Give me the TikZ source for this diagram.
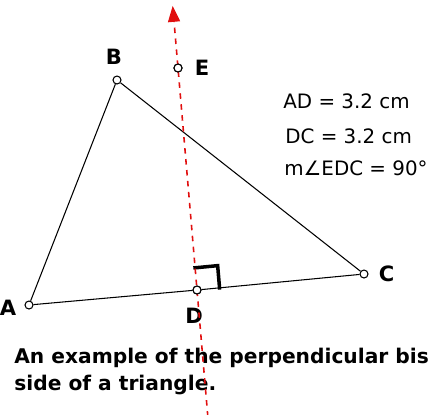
\documentclass[tikz,border=0pt]{standalone}
\usepackage{fontspec}
\setmainfont{DejaVu Sans}
\usepackage{tikz}
\usetikzlibrary{arrows.meta, positioning, calc}
\definecolor{bisectred}{RGB}{225, 15, 15}
\tikzset{
    vertex/.style={circle, draw=black, fill=white, line width=0.6pt, inner sep=0pt, minimum size=0.16cm},
    ptlabel/.style={inner sep=0pt, font=\bfseries\fontsize{12}{14}\selectfont},
    measure/.style={anchor=base west, inner sep=0pt, font=\fontsize{11.3}{14}\selectfont},
    caption/.style={anchor=base west, inner sep=0pt, font=\bfseries\fontsize{11.5}{14}\selectfont},
    side/.style={line width=0.6pt, draw=black},
    bisector/.style={draw=bisectred, line width=0.9pt, dash pattern=on 0.11cm off 0.11cm, -{Triangle[width=0.24cm, length=0.32cm]}},
    rightangle/.style={line width=2pt, line cap=rect, draw=black}
}

\begin{document}
\begin{tikzpicture}[x=0.02cm, y=-0.02cm]
    \useasboundingbox (0,0) rectangle (432,414);

    \node (A) [vertex] at (29,305) {};
    \node (B) [vertex] at (117,80) {};
    \node (C) [vertex] at (364,274) {};
    \node (D) [vertex] at (197,290) {};
    \node (E) [vertex] at (178,68) {};

    \coordinate (tip) at ($(D.center)!1.28!(E.center)$);
    \coordinate (bot) at ($(D.center)!-0.57!(E.center)$);

    \draw [side] (A) -- (B);
    \draw [side] (B) -- (C);
    \draw [side] (A) -- (D);
    \draw [side] (D) -- (C);

    \draw [rightangle] ($(D.center)!0.1!(E.center)$) -- ($(D.center)!0.1!(E.center) + (D.center)!0.135!(C.center) - (D.center)$) -- ($(D.center)!0.135!(C.center)$);

    \node (labA) [ptlabel, left=0.16cm of A, yshift=-0.06cm] {A};
    \node (labB) [ptlabel, above=0.21cm of B, xshift=-0.06cm] {B};
    \node (labC) [ptlabel, right=0.2cm of C] {C};
    \node (labD) [ptlabel, below=0.26cm of D, xshift=-0.06cm] {D};
    \node (labE) [ptlabel, right=0.24cm of E] {E};

    \node (ad) [measure] at (283,108) {AD = 3.2 cm};
    \node (dc) [measure] at (285,143) {DC = 3.2 cm};
    \node (edc) [measure] at (284,175) {m∠EDC = 90°};

    \node (cap1) [caption] at (14,363) {An example of the perpendicular bis};
    \node (cap2) [caption] at (14,390) {side of a triangle.};

    \draw [bisector] (bot) -- (tip);

    \node [vertex] at (D.center) {};
    \node [vertex] at (E.center) {};
\end{tikzpicture}
\end{document}
